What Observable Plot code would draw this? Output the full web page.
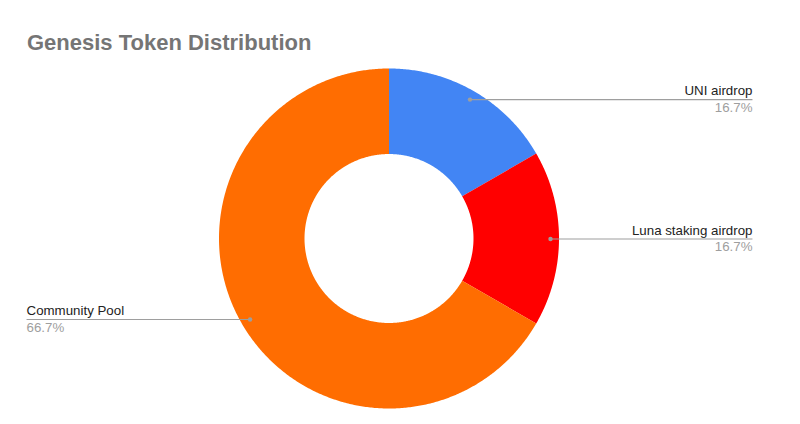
<!DOCTYPE html>
<html>
<head>
<meta charset="utf-8">
<script src="https://cdn.jsdelivr.net/npm/d3@7"></script>
<script src="https://cdn.jsdelivr.net/npm/@observablehq/plot@0.6"></script>
<style>
  html, body { margin: 0; padding: 0; background: #fff; }
  #wrap { position: relative; width: 800px; height: 424px; overflow: hidden; }
  #title { position: absolute; left: 27px; top: 32px; font: bold 22px "Liberation Sans", Arial, sans-serif; line-height: 1; color: #757575; white-space: nowrap; z-index: 2; }
  #chart { position: absolute; left: 0; top: 0; }
</style>
</head>
<body>
<div id="wrap">
  <div id="title">Genesis Token Distribution</div>
  <div id="chart"></div>
</div>
<script>
const title = "Genesis Token Distribution";
const names = ["UNI airdrop", "Luna staking airdrop", "Community Pool"];
const values = [1, 1, 4];
const colors = ["#4285F4", "#FF0000", "#FF6D01"];

const W = 800, H = 424;
const cx = 389, cy = 238.5, R = 170;   // layout: centre and outer radius in px
const inner = 0.497, dotR = 0.947, labelX = 2.135;

const total = d3.sum(values);
const fmt = d3.format(".1%");
const pie = d3.pie().sort(null).startAngle(0).endAngle(2 * Math.PI)(values);

// sample annular sectors (unit radius, y downward)
const ring = [];
pie.forEach((p, i) => {
  const n = Math.max(2, Math.ceil((p.endAngle - p.startAngle) / (Math.PI / 360)));
  for (let k = 0; k <= n; k++) {
    const a = p.startAngle + (p.endAngle - p.startAngle) * k / n;
    ring.push({
      name: names[i],
      xo: Math.sin(a), yo: -Math.cos(a),
      xi: inner * Math.sin(a), yi: -inner * Math.cos(a)
    });
  }
});

const labels = pie.map((p, i) => {
  const a = (p.startAngle + p.endAngle) / 2;
  const x = dotR * Math.sin(a), y = -dotR * Math.cos(a);
  const right = x >= 0;
  return {
    name: names[i], pct: fmt(values[i] / total),
    x, y, lx: right ? labelX : -labelX, right
  };
});

const textFont = "13.3px";
const chart = Plot.plot({
  width: W, height: H,
  margin: 0,
  style: { fontFamily: "'Liberation Sans', Arial, sans-serif", background: "transparent" },
  x: { domain: [-cx / R, (W - cx) / R], range: [0, W], axis: null },
  y: { domain: [-cy / R, (H - cy) / R], range: [0, H], axis: null },
  color: { domain: names, range: colors },
  marks: [
    Plot.area(ring, { x1: "xo", y1: "yo", x2: "xi", y2: "yi", z: "name", fill: "name", curve: "linear" }),
    Plot.link(labels, { x1: "x", y1: "y", x2: "lx", y2: "y", stroke: "#9e9e9e", strokeWidth: 1.2 }),
    Plot.dot(labels, { x: "x", y: "y", r: 2.2, fill: "#9e9e9e", stroke: "none" }),
    Plot.text(labels.filter(d => d.right), { x: "lx", y: "y", text: "name", textAnchor: "end", lineAnchor: "bottom", dy: -4.5, fill: "#222", fontSize: textFont }),
    Plot.text(labels.filter(d => d.right), { x: "lx", y: "y", text: "pct", textAnchor: "end", lineAnchor: "top", dy: 3, fill: "#9e9e9e", fontSize: textFont }),
    Plot.text(labels.filter(d => !d.right), { x: "lx", y: "y", text: "name", textAnchor: "start", lineAnchor: "bottom", dy: -4.5, fill: "#222", fontSize: textFont }),
    Plot.text(labels.filter(d => !d.right), { x: "lx", y: "y", text: "pct", textAnchor: "start", lineAnchor: "top", dy: 3, fill: "#9e9e9e", fontSize: textFont })
  ]
});
document.getElementById("chart").appendChild(chart);
document.getElementById("title").textContent = title;
</script>
</body>
</html>
